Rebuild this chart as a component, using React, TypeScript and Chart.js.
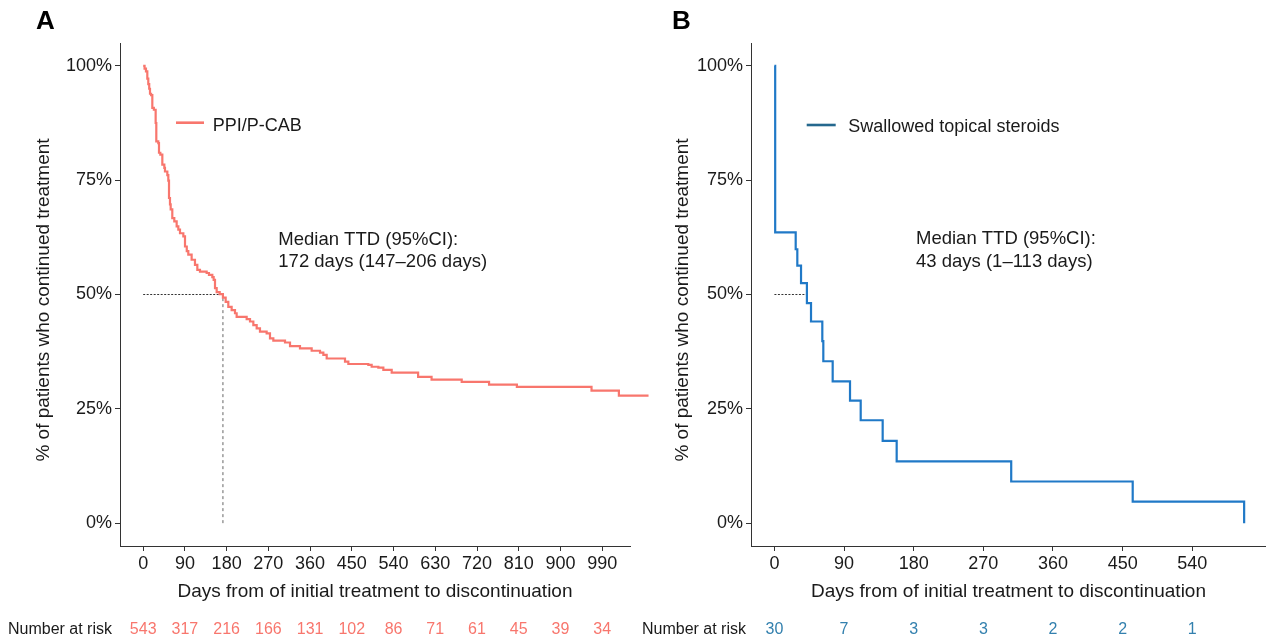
import React, { useEffect, useRef } from 'react';
import { Chart, registerables } from 'chart.js';

Chart.register(...registerables);

const FONT = '"Liberation Sans", Arial, Helvetica, sans-serif';

// ---------------- Panel A data (PPI/P-CAB) ----------------
const daysA = [0, 3, 6, 8.9, 11, 13, 14.7, 17, 19.7, 23, 26.9, 28.3, 32.6, 34.1, 37, 41.3, 45.6, 47, 52.1, 54.2, 55.7, 57.8, 59.3, 62.8, 67.1, 72.2, 75.8, 79.4, 86.6, 90.2, 94, 97.3, 104.5, 111.7, 116.8, 122.5, 136.9, 141.9, 149.1, 152, 154.9, 158.5, 165, 172, 177.9, 183.6, 190.8, 198, 201.6, 223.2, 230.4, 237.6, 244.8, 251.9, 266.3, 273.5, 280.7, 305.9, 316.7, 338.2, 363.4, 381.4, 388.6, 395.8, 435.3, 442.5, 485.6, 492.8, 507.2, 518, 536, 593, 622, 687, 746, 806, 967, 1026, 1090];
const pctA = [100, 99.4, 98.8, 97.2, 96.0, 95.0, 93.9, 93.6, 90.8, 90.4, 87.5, 83.5, 83.1, 81.0, 80.6, 78.4, 77.7, 76.9, 76.1, 74.9, 71.1, 69.7, 68.6, 66.7, 66.0, 64.9, 64.2, 63.4, 62.7, 60.5, 59.5, 58.7, 57.6, 56.5, 55.4, 55.0, 54.7, 54.3, 53.8, 53.2, 51.4, 50.5, 50.1, 49.3, 48.4, 47.3, 46.6, 45.9, 45.1, 44.6, 44.1, 43.3, 42.6, 41.9, 41.5, 40.4, 39.9, 39.5, 38.7, 38.2, 37.7, 37.3, 36.8, 36.0, 35.3, 34.8, 34.6, 34.2, 34.0, 33.5, 32.9, 32.0, 31.4, 30.9, 30.3, 29.8, 29.0, 27.9, 27.9];
const xTicksA = [0, 90, 180, 270, 360, 450, 540, 630, 720, 810, 900, 990];
const riskA = [543, 317, 216, 166, 131, 102, 86, 71, 61, 45, 39, 34];
const medianA = 172;
const annotA = ['Median TTD (95%CI):', '172 days (147\u2013206 days)'];

// ---------------- Panel B data (Swallowed topical steroids) ----------------
const daysB = [0, 1, 27.5, 29.6, 34.4, 42, 47.3, 61.9, 63.2, 75.3, 97.7, 111.5, 139.9, 158, 306, 463, 607];
const pctB = [100, 63.6, 59.9, 56.3, 52.5, 48.1, 44.1, 39.8, 35.4, 31.0, 26.8, 22.5, 18.0, 13.5, 9.1, 4.7, 0];
const xTicksB = [0, 90, 180, 270, 360, 450, 540];
const riskB = [30, 7, 3, 3, 2, 2, 1];
const medianB = 42;
const annotB = ['Median TTD (95%CI):', '43 days (1\u2013113 days)'];

const yTicks = [0, 25, 50, 75, 100];
const X_TITLE = 'Days from of initial treatment to discontinuation';
const Y_TITLE = '% of patients who continued treatment';

type Panel = {
  letter: string;
  days: number[];
  pct: number[];
  xTicks: number[];
  risk: number[];
  median: number;
  medianVertical: boolean;
  annot: string[];
  legendText: string;
  curveColor: string;
  legendColor: string;
  riskColor: string;
  xMin: number;
  xMax: number;
  canvasLeft: number;
  canvasWidth: number;
  rightPad: number;
  yAxisWidth: number;
  yTitleX: number;
  yTitleY: number;
  clipCurve: boolean;
  letterX: number;
  legX1: number;
  legX2: number;
  legY: number;
  legTextX: number;
  legBase: number;
  annX: number;
  annBase1: number;
  annBase2: number;
  riskLabelRight: number;
};

const panelA: Panel = {
  letter: 'A', days: daysA, pct: pctA, xTicks: xTicksA, risk: riskA, median: medianA,
  medianVertical: true, annot: annotA, legendText: 'PPI/P-CAB',
  curveColor: '#F8766D', legendColor: '#F8766D', riskColor: '#F8766D',
  xMin: -50, xMax: 1050, canvasLeft: 0, canvasWidth: 660, rightPad: 30,
  yAxisWidth: 120, yTitleX: 43.3, yTitleY: 300, clipCurve: false,
  letterX: 36, legX1: 176, legX2: 204, legY: 122.7, legTextX: 212.7, legBase: 131,
  annX: 278.3, annBase1: 245, annBase2: 267.3, riskLabelRight: 112,
};

const panelB: Panel = {
  letter: 'B', days: daysB, pct: pctB, xTicks: xTicksB, risk: riskB, median: medianB,
  medianVertical: false, annot: annotB, legendText: 'Swallowed topical steroids',
  curveColor: '#2079C7', legendColor: '#25688E', riskColor: '#3380AE',
  xMin: -30.25, xMax: 635.25, canvasLeft: 633, canvasWidth: 633, rightPad: 0,
  yAxisWidth: 118, yTitleX: 683, yTitleY: 300, clipCurve: true,
  letterX: 672, legX1: 806.7, legX2: 835.7, legY: 125, legTextX: 848.3, legBase: 131.7,
  annX: 916, annBase1: 244.3, annBase2: 266.7, riskLabelRight: 746,
};

function overlay(p: Panel) {
  return {
    id: 'overlay' + p.letter,
    afterDraw(chart: any) {
      const ctx = chart.ctx as CanvasRenderingContext2D;
      const off = p.canvasLeft;
      ctx.save();
      ctx.textBaseline = 'alphabetic';
      ctx.textAlign = 'left';
      // panel letter
      ctx.fillStyle = '#000';
      ctx.font = `bold 26px ${FONT}`;
      ctx.fillText(p.letter, p.letterX - off, 29.3);
      // y axis title
      ctx.save();
      ctx.translate(p.yTitleX - off, p.yTitleY);
      ctx.rotate(-Math.PI / 2);
      ctx.textAlign = 'center';
      ctx.textBaseline = 'middle';
      ctx.fillStyle = '#1a1a1a';
      ctx.font = `19px ${FONT}`;
      ctx.fillText(Y_TITLE, 0, 0);
      ctx.restore();
      // legend
      ctx.strokeStyle = p.legendColor;
      ctx.lineWidth = 2.6;
      ctx.beginPath();
      ctx.moveTo(p.legX1 - off, p.legY);
      ctx.lineTo(p.legX2 - off, p.legY);
      ctx.stroke();
      ctx.fillStyle = '#1a1a1a';
      ctx.font = `18px ${FONT}`;
      ctx.fillText(p.legendText, p.legTextX - off, p.legBase);
      // median annotation
      ctx.font = `18.5px ${FONT}`;
      ctx.fillText(p.annot[0], p.annX - off, p.annBase1);
      ctx.fillText(p.annot[1], p.annX - off, p.annBase2);
      // number at risk
      const xs = chart.scales.x;
      ctx.font = `16px ${FONT}`;
      ctx.textAlign = 'right';
      ctx.fillStyle = '#1a1a1a';
      ctx.fillText('Number at risk', p.riskLabelRight - off, 633.7);
      ctx.textAlign = 'center';
      ctx.fillStyle = p.riskColor;
      p.xTicks.forEach((t, i) => {
        ctx.fillText(String(p.risk[i]), xs.getPixelForValue(t), 633.7);
      });
      ctx.restore();
    },
  };
}

function makeChart(canvas: HTMLCanvasElement, p: Panel) {
  const axisColor = '#333';
  const textColor = '#1a1a1a';
  const datasets: any[] = [
    {
      data: p.days.map((d, i) => ({ x: d, y: p.pct[i] })),
      stepped: true,
      borderColor: p.curveColor,
      borderWidth: 2.2,
      pointRadius: 0,
      fill: false,
      clip: p.clipCurve ? undefined : false,
    },
    {
      data: [{ x: 0, y: 50 }, { x: p.median, y: 50 }],
      borderColor: '#333',
      borderWidth: 1,
      borderDash: [2, 1.5],
      pointRadius: 0,
      fill: false,
    },
  ];
  if (p.medianVertical) {
    datasets.push({
      data: [{ x: p.median, y: 0 }, { x: p.median, y: 50 }],
      borderColor: '#666',
      borderWidth: 1,
      borderDash: [3, 3],
      pointRadius: 0,
      fill: false,
    });
  }
  return new Chart(canvas, {
    type: 'line',
    data: { datasets },
    plugins: [overlay(p)],
    options: {
      responsive: false,
      maintainAspectRatio: false,
      animation: false,
      devicePixelRatio: 1,
      events: [],
      layout: { padding: { left: 0, right: p.rightPad, top: 43, bottom: 0 } },
      plugins: { legend: { display: false }, tooltip: { enabled: false }, title: { display: false } },
      scales: {
        x: {
          type: 'linear',
          min: p.xMin,
          max: p.xMax,
          afterBuildTicks: (s: any) => { s.ticks = p.xTicks.map((v) => ({ value: v })); },
          afterFit: (s: any) => { s.height = 92; },
          ticks: {
            font: { family: FONT, size: 18 },
            color: textColor,
            padding: 2,
            maxRotation: 0,
            autoSkip: false,
            callback: (v: any) => String(v),
          },
          grid: { display: true, drawOnChartArea: false, drawTicks: true, tickLength: 5, tickColor: axisColor, tickWidth: 1 },
          border: { display: true, color: axisColor, width: 1 },
          title: {
            display: true,
            text: X_TITLE,
            color: textColor,
            font: { family: FONT, size: 19 },
            padding: { top: 0, bottom: 34.6 },
          },
        },
        y: {
          type: 'linear',
          min: -5,
          max: 105,
          afterBuildTicks: (s: any) => { s.ticks = yTicks.map((v) => ({ value: v })); },
          afterFit: (s: any) => { s.width = p.yAxisWidth; },
          ticks: {
            font: { family: FONT, size: 18 },
            color: textColor,
            padding: 3,
            callback: (v: any) => v + '%',
          },
          grid: { display: true, drawOnChartArea: false, drawTicks: true, tickLength: 5, tickColor: axisColor, tickWidth: 1 },
          border: { display: true, color: axisColor, width: 1 },
          title: { display: false },
        },
      },
    } as any,
  });
}

export default function App() {
  const refA = useRef<HTMLCanvasElement>(null);
  const refB = useRef<HTMLCanvasElement>(null);
  useEffect(() => {
    const a = makeChart(refA.current as HTMLCanvasElement, panelA);
    const b = makeChart(refB.current as HTMLCanvasElement, panelB);
    return () => {
      a.destroy();
      b.destroy();
    };
  }, []);
  return (
    <div style={{ position: 'absolute', left: 0, top: 0, width: 1266, height: 638, background: '#fff', overflow: 'hidden' }}>
      <canvas ref={refA} width={panelA.canvasWidth} height={638}
        style={{ position: 'absolute', left: panelA.canvasLeft, top: 0, width: panelA.canvasWidth, height: 638 }} />
      <canvas ref={refB} width={panelB.canvasWidth} height={638}
        style={{ position: 'absolute', left: panelB.canvasLeft, top: 0, width: panelB.canvasWidth, height: 638 }} />
    </div>
  );
}
